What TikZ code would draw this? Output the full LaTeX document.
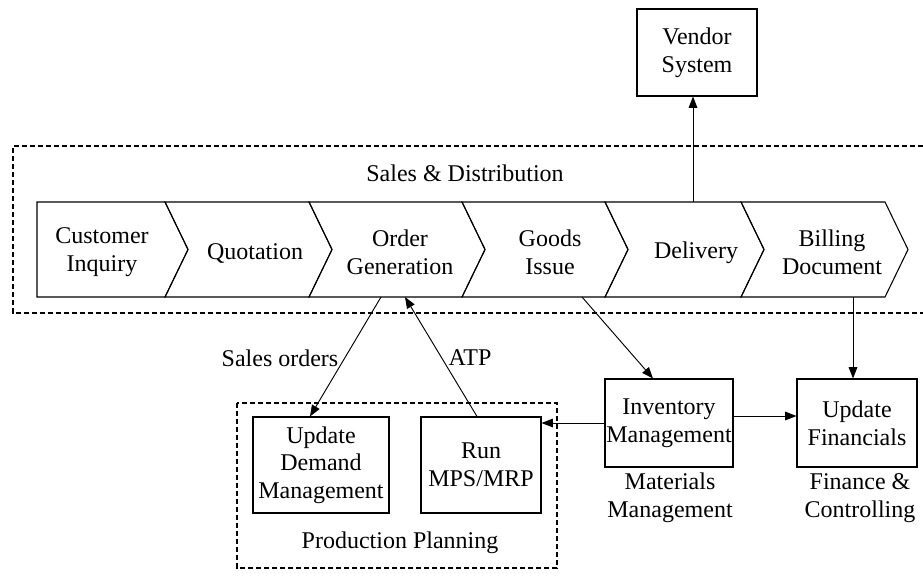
\documentclass[tikz,border=0pt]{standalone}
\usepackage{fontspec}
\setmainfont{Liberation Serif}
\usetikzlibrary{arrows.meta}

\begin{document}
\begin{tikzpicture}[x=0.75pt,y=-0.75pt,
  every node/.style={font=\fontsize{18}{20.8}\selectfont, align=center, inner sep=0pt},
  box/.style={draw, line width=0.8pt},
  chev/.style={draw, line width=0.8pt},
  frame/.style={draw, line width=0.8pt, dash pattern=on 3.8pt off 2.2pt},
  arr/.style={draw, line width=0.7pt, -{Triangle[length=8.5pt,width=6.5pt]}}
]
\useasboundingbox (0,0) rectangle (923,575);

% Sales & Distribution frame (open on the right)
\draw[frame] (923,146) -- (13,146) -- (13,313) -- (923,313);
\node (sd) at (465,173) {Sales \& Distribution};

% process chevrons
\draw[chev] (37,202) -- (165,202) -- (188,249.5) -- (165,297) -- (37,297) -- cycle;
\draw[chev] (165,202) -- (309,202) -- (332,249.5) -- (309,297) -- (165,297) -- (188,249.5) -- cycle;
\draw[chev] (309,202) -- (462,202) -- (485,249.5) -- (462,297) -- (309,297) -- (332,249.5) -- cycle;
\draw[chev] (462,202) -- (605,202) -- (628,249.5) -- (605,297) -- (462,297) -- (485,249.5) -- cycle;
\draw[chev] (605,202) -- (741,202) -- (764,249.5) -- (741,297) -- (605,297) -- (628,249.5) -- cycle;
\draw[chev] (741,202) -- (885,202) -- (908,249.5) -- (885,297) -- (741,297) -- (764,249.5) -- cycle;

\node (ci) at (102,252) {Customer\\Inquiry};
\node (qu) at (255,253) {Quotation};
\node (og) at (400,252) {Order\\Generation};
\node (gi) at (550,252) {Goods\\Issue};
\node (de) at (696,253) {Delivery};
\node (bd) at (832,252) {Billing\\Document};

% connector ends on the chevron edges
\coordinate (ogout) at (381,297);
\coordinate (ogin)  at (405,297);
\coordinate (giout) at (582,297);
\coordinate (deout) at (693,202);
\coordinate (bdout) at (853,297);

% vendor system
\node[box, minimum width=90pt, minimum height=65.25pt] (vs) at (697,52.5) {Vendor\\System};

% Production Planning frame
\draw[frame] (237,403) rectangle (557,568);
\node[box, minimum width=102pt, minimum height=72pt] (udm) at (321,465) {Update\\Demand\\Management};
\node[box, minimum width=90pt, minimum height=72pt] (mps) at (481,465) {Run\\MPS/MRP};
\node (pp) at (400,543) {Production Planning};

% materials management and finance
\node[box, minimum width=96pt, minimum height=66pt] (inv) at (669,423) {Inventory\\Management};
\node[box, minimum width=90pt, minimum height=66pt] (fin) at (857,423) {Update\\Financials};
\node (mm) at (670,498) {Materials\\Management};
\node (fc) at (860,498) {Finance \&\\Controlling};

% connectors
\draw[arr] (ogout) -- ([xshift=-8.25pt]udm.north);
\draw[arr] ([xshift=-3pt]mps.north) -- (ogin);
\draw[arr] (giout) -- ([xshift=-12pt]inv.north);
\draw[arr] (bdout) -- (bdout |- fin.north);
\draw[arr] (deout) -- (deout |- vs.south);
\draw[arr] (inv.west) -- (inv.west -| mps.east);
\draw[arr] ([yshift=5.25pt]inv.east) -- ([yshift=5.25pt]inv.east -| fin.west);

\node (so) at (280,358) {Sales orders};
\node (atp) at (470,358) {ATP};
\end{tikzpicture}
\end{document}
